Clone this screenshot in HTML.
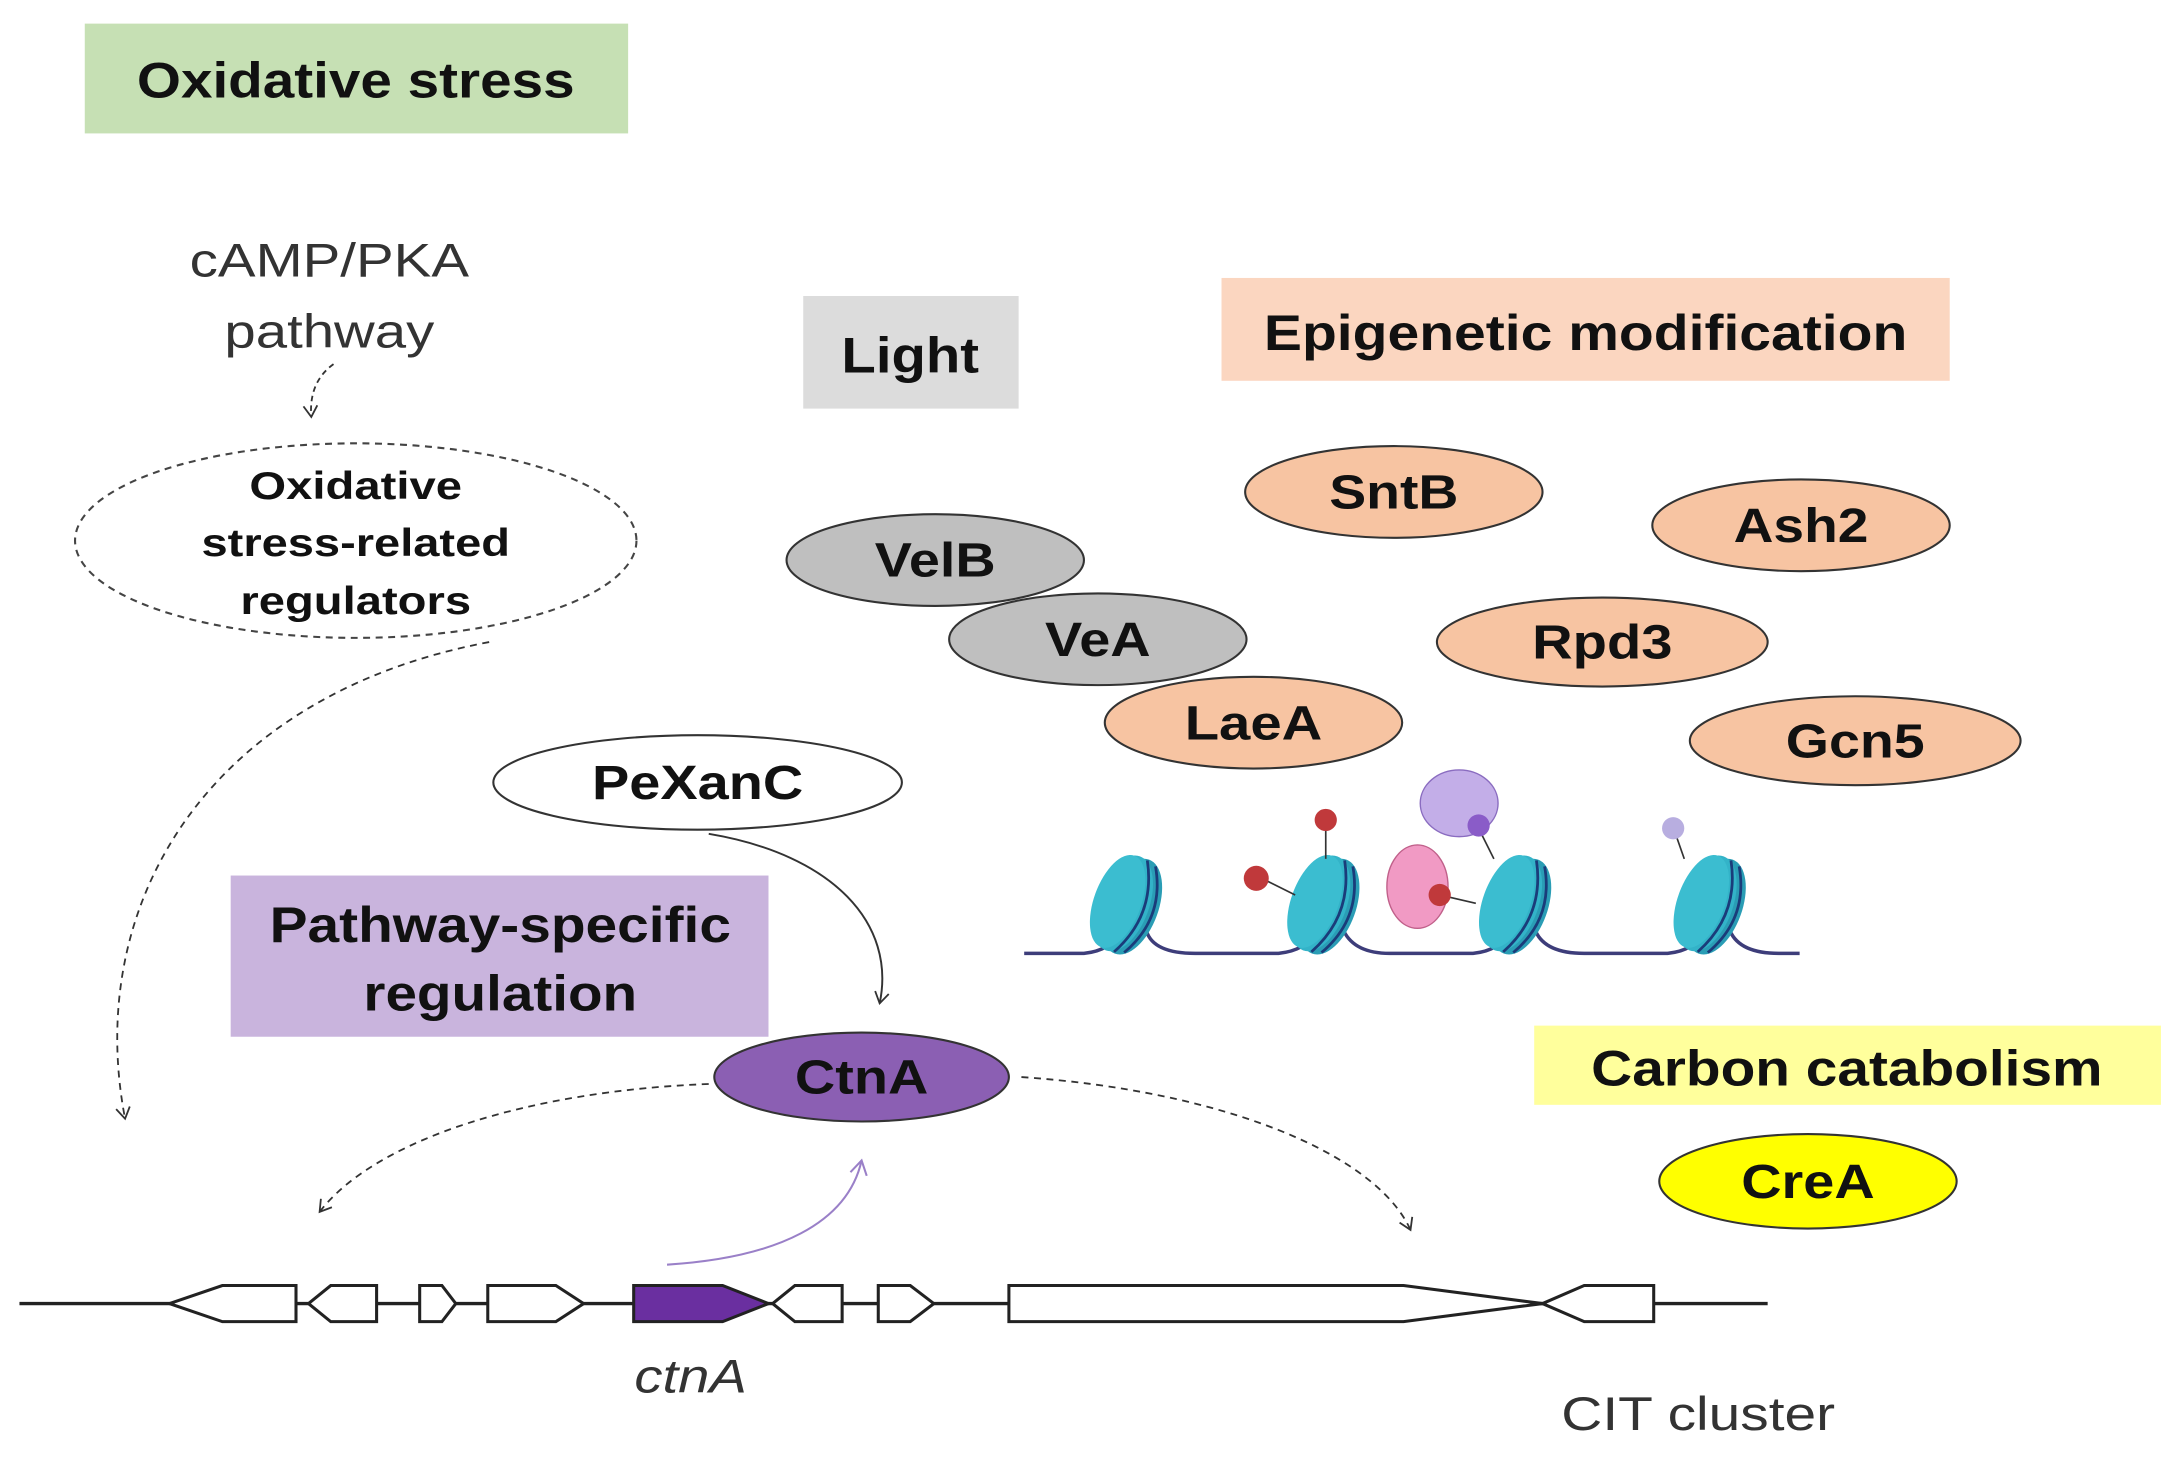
<!DOCTYPE html>
<html><head><meta charset="utf-8"><style>
html,body{margin:0;padding:0;background:#fff;width:2179px;height:1462px;overflow:hidden}
svg{display:block}
text{font-family:"Liberation Sans",Arial,sans-serif}
.b{font-weight:bold;fill:#111}
</style></head><body>
<svg width="2179" height="1462" viewBox="0 0 1568 1052" preserveAspectRatio="none" xmlns="http://www.w3.org/2000/svg">
<defs>
<marker id="oa" markerWidth="12" markerHeight="12" refX="9" refY="6" orient="auto" markerUnits="userSpaceOnUse"><path d="M1,1 L9,6 L1,11" fill="none" stroke="#333" stroke-width="1.3"/></marker>
<marker id="pa" markerWidth="14" markerHeight="14" refX="11" refY="7" orient="auto" markerUnits="userSpaceOnUse"><path d="M1,1 L11,7 L1,13" fill="none" stroke="#9a80c8" stroke-width="1.5"/></marker>
<g id="nuc"><g transform="rotate(20)"><ellipse cx="7" cy="0" rx="19" ry="36" fill="#2a9db5"/><ellipse cx="0" cy="0" rx="19" ry="36" fill="#33b3c8"/><path d="M6,-35 Q25,0 6,35 M13,-33 Q32,0 13,33" stroke="#1a3c7a" stroke-width="2" fill="none"/><ellipse cx="-4" cy="0" rx="17" ry="35" fill="#3bbdd0"/></g></g>
</defs>
<rect x="61" y="17" width="391" height="79" fill="#c6e0b4"/>
<text x="256" y="70" text-anchor="middle" font-size="36" class="b" textLength="315" lengthAdjust="spacingAndGlyphs">Oxidative stress</text>
<rect x="578" y="213" width="155" height="81" fill="#dcdcdc"/>
<text x="655" y="268" text-anchor="middle" font-size="36" class="b" textLength="99" lengthAdjust="spacingAndGlyphs">Light</text>
<rect x="879" y="200" width="524" height="74" fill="#fbd6c0"/>
<text x="1141" y="252" text-anchor="middle" font-size="36" class="b" textLength="463" lengthAdjust="spacingAndGlyphs">Epigenetic modification</text>
<rect x="166" y="630" width="387" height="116" fill="#c9b4dd"/>
<text x="360" y="678" text-anchor="middle" font-size="36" class="b" textLength="332" lengthAdjust="spacingAndGlyphs">Pathway-specific</text>
<text x="360" y="727" text-anchor="middle" font-size="36" class="b" textLength="197" lengthAdjust="spacingAndGlyphs">regulation</text>
<rect x="1104" y="738" width="451" height="57" fill="#ffff9c"/>
<text x="1329" y="781" text-anchor="middle" font-size="36" class="b" textLength="368" lengthAdjust="spacingAndGlyphs">Carbon catabolism</text>
<text x="237" y="199" text-anchor="middle" font-size="34" fill="#333" textLength="201" lengthAdjust="spacingAndGlyphs">cAMP/PKA</text>
<text x="237" y="250" text-anchor="middle" font-size="34" fill="#333" textLength="151" lengthAdjust="spacingAndGlyphs">pathway</text>
<path d="M240,262 Q222,275 224,300" fill="none" stroke="#333" stroke-width="1.3" stroke-dasharray="4,3" marker-end="url(#oa)"/>
<ellipse cx="256" cy="389" rx="202" ry="70" fill="none" stroke="#444" stroke-width="1.5" stroke-dasharray="5,4"/>
<text x="256" y="359" text-anchor="middle" font-size="28" class="b" textLength="153" lengthAdjust="spacingAndGlyphs">Oxidative</text>
<text x="256" y="400" text-anchor="middle" font-size="28" class="b" textLength="222" lengthAdjust="spacingAndGlyphs">stress-related</text>
<text x="256" y="442" text-anchor="middle" font-size="28" class="b" textLength="166" lengthAdjust="spacingAndGlyphs">regulators</text>
<path d="M352,462 C150,500 60,650 90,805" fill="none" stroke="#333" stroke-width="1.3" stroke-dasharray="5,4" marker-end="url(#oa)"/>
<g stroke="#333" stroke-width="1.5">
<ellipse cx="1003" cy="354" rx="107" ry="33" fill="#f7c4a2"/>
<ellipse cx="1296" cy="378" rx="107" ry="33" fill="#f7c4a2"/>
<ellipse cx="1153" cy="462" rx="119" ry="32" fill="#f7c4a2"/>
<ellipse cx="1335" cy="533" rx="119" ry="32" fill="#f7c4a2"/>
<ellipse cx="673" cy="403" rx="107" ry="33" fill="#bfbfbf"/>
<ellipse cx="790" cy="460" rx="107" ry="33" fill="#bfbfbf"/>
<ellipse cx="902" cy="520" rx="107" ry="33" fill="#f7c4a2"/>
<ellipse cx="502" cy="563" rx="147" ry="34" fill="#fff"/>
<ellipse cx="620" cy="775" rx="106" ry="32" fill="#8b5fb3"/>
<ellipse cx="1301" cy="850" rx="107" ry="34" fill="#ffff00"/>
</g>
<g font-size="35" text-anchor="middle" class="b">
<text x="1003" y="366" textLength="93" lengthAdjust="spacingAndGlyphs">SntB</text>
<text x="1296" y="390" textLength="97" lengthAdjust="spacingAndGlyphs">Ash2</text>
<text x="1153" y="474" textLength="101" lengthAdjust="spacingAndGlyphs">Rpd3</text>
<text x="1335" y="545" textLength="100" lengthAdjust="spacingAndGlyphs">Gcn5</text>
<text x="673" y="415" textLength="87" lengthAdjust="spacingAndGlyphs">VelB</text>
<text x="790" y="472" textLength="76" lengthAdjust="spacingAndGlyphs">VeA</text>
<text x="902" y="532" textLength="99" lengthAdjust="spacingAndGlyphs">LaeA</text>
<text x="502" y="575" textLength="152" lengthAdjust="spacingAndGlyphs">PeXanC</text>
<text x="620" y="787" textLength="96" lengthAdjust="spacingAndGlyphs">CtnA</text>
<text x="1301" y="862" textLength="96" lengthAdjust="spacingAndGlyphs">CreA</text>
</g>
<path d="M510,600 C600,615 645,665 633,722" fill="none" stroke="#333" stroke-width="1.4" marker-end="url(#oa)"/>
<path d="M510,780 C380,785 270,820 230,872" fill="none" stroke="#333" stroke-width="1.3" stroke-dasharray="5,4" marker-end="url(#oa)"/>
<path d="M735,775 C880,785 990,830 1015,885" fill="none" stroke="#333" stroke-width="1.3" stroke-dasharray="5,4" marker-end="url(#oa)"/>
<path d="M480,910 C560,905 610,880 620,835" fill="none" stroke="#9a80c8" stroke-width="1.5" marker-end="url(#pa)"/>
<path d="M737,686 L780,686 Q800,684 805,670 M825,670 Q830,686 860,686 L920,686 Q940,684 947,670 M967,670 Q975,686 1000,686 L1060,686 Q1080,684 1085,670 M1105,670 Q1112,686 1140,686 L1200,686 Q1220,684 1225,670 M1245,670 Q1252,686 1280,686 L1295,686" fill="none" stroke="#3d3d7a" stroke-width="2.5"/>
<use href="#nuc" x="808" y="650"/>
<use href="#nuc" x="950" y="650"/>
<use href="#nuc" x="1088" y="650"/>
<use href="#nuc" x="1228" y="650"/>
<ellipse cx="1050" cy="578" rx="28" ry="24" fill="#c3aee8" stroke="#8a6cc0" stroke-width="1"/>
<ellipse cx="1020" cy="638" rx="22" ry="30" fill="#f19ac4" stroke="#c0608a" stroke-width="1"/>
<g stroke="#333" stroke-width="1.2"><line x1="954" y1="618" x2="954" y2="596"/><line x1="912" y1="634" x2="932" y2="644"/><line x1="1036" y1="644" x2="1062" y2="650"/><line x1="1064" y1="596" x2="1075" y2="618"/><line x1="1205" y1="598" x2="1212" y2="618"/></g>
<circle cx="954" cy="590" r="8" fill="#c0393b"/><circle cx="904" cy="632" r="9" fill="#c0393b"/><circle cx="1036" cy="644" r="8" fill="#c0393b"/>
<circle cx="1064" cy="594" r="8" fill="#8a5cc8"/><circle cx="1204" cy="596" r="8" fill="#b8aee0"/>
<line x1="14" y1="938" x2="1272" y2="938" stroke="#222" stroke-width="2.5"/>
<g stroke="#222" stroke-width="2.2" fill="#fff">
<path d="M122,938 L160,925 L213,925 L213,951 L160,951 Z"/>
<path d="M222,938 L238,925 L271,925 L271,951 L238,951 Z"/>
<path d="M302,925 L318,925 L328,938 L318,951 L302,951 Z"/>
<path d="M351,925 L400,925 L420,938 L400,951 L351,951 Z"/>
<path d="M456,925 L520,925 L553,938 L520,951 L456,951 Z" fill="#6a2fa0"/>
<path d="M556,938 L572,925 L606,925 L606,951 L572,951 Z"/>
<path d="M632,925 L655,925 L672,938 L655,951 L632,951 Z"/>
<path d="M726,925 L1010,925 L1110,938 L1010,951 L726,951 Z"/>
<path d="M1110,938 L1140,925 L1190,925 L1190,951 L1140,951 Z"/>
</g>
<text x="497" y="1002" text-anchor="middle" font-size="34" font-style="italic" fill="#333" textLength="81" lengthAdjust="spacingAndGlyphs">ctnA</text>
<text x="1222" y="1029" text-anchor="middle" font-size="34" fill="#333" textLength="197" lengthAdjust="spacingAndGlyphs">CIT cluster</text>
</svg>
</body></html>
